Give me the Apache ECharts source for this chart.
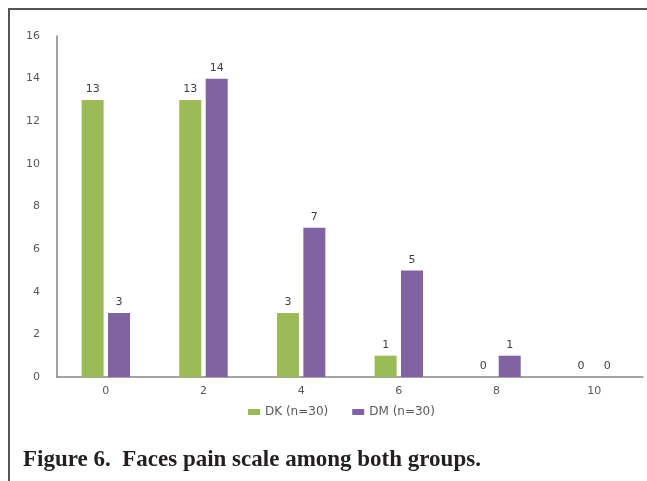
<!DOCTYPE html>
<html>
<head>
<meta charset="utf-8">
<script src="https://cdn.jsdelivr.net/npm/echarts@6/dist/echarts.min.js"></script>
<style>
  html, body { margin: 0; padding: 0; background: #fff; }
  #chart { width: 647px; height: 481px; }
</style>
</head>
<body>
<div id="chart"></div>
<script>
// Pain scores (Faces scale) on the x axis
const categories = ['0', '2', '4', '6', '8', '10'];
// Patient counts per score for each group
const dkValues = [13, 13, 3, 1, 0, 0];
const dmValues = [3, 14, 7, 5, 1, 0];
const seriesNames = ['DK (n=30)', 'DM (n=30)'];
const captionText = 'Figure 6.  Faces pain scale among both groups.';

const chart = echarts.init(document.getElementById('chart'), null, { renderer: 'canvas' });

const labelStyle = {
  show: true,
  position: 'top',
  distance: 5,
  color: '#404040',
  fontSize: 11,
  fontFamily: 'DejaVu Sans'
};

chart.setOption({
  animation: false,
  backgroundColor: '#ffffff',
  graphic: [
    {
      type: 'polyline',
      shape: { points: [[9, 481], [9, 9], [647, 9]] },
      style: { stroke: '#555555', lineWidth: 2, fill: null }
    }
  ],
  title: {
    text: captionText,
    left: 18,
    top: 444,
    textStyle: {
      fontFamily: 'Liberation Serif',
      fontWeight: 'bold',
      fontSize: 23,
      color: '#231f20'
    }
  },
  legend: {
    data: seriesNames,
    top: 401,
    left: 243,
    itemWidth: 12,
    itemHeight: 6,
    itemGap: 24,
    icon: 'rect',
    textStyle: { color: '#595959', fontSize: 12, fontFamily: 'DejaVu Sans' }
  },
  grid: { left: 57, right: 4, top: 36, bottom: 104 },
  xAxis: {
    type: 'category',
    data: categories,
    axisLine: { lineStyle: { color: '#868686', width: 1.5 } },
    axisTick: { show: false },
    axisLabel: { color: '#595959', fontSize: 11, fontFamily: 'DejaVu Sans', margin: 9 }
  },
  yAxis: {
    type: 'value',
    min: 0,
    max: 16,
    interval: 2,
    axisLine: { show: true, lineStyle: { color: '#868686', width: 1.5 } },
    axisTick: { show: false },
    splitLine: { show: false },
    axisLabel: { color: '#595959', fontSize: 11, fontFamily: 'DejaVu Sans', margin: 17 }
  },
  series: [
    {
      name: seriesNames[0],
      type: 'bar',
      data: dkValues,
      barWidth: 22,
      barGap: '20%',
      itemStyle: { color: '#9bbb59' },
      label: labelStyle
    },
    {
      name: seriesNames[1],
      type: 'bar',
      data: dmValues,
      barWidth: 22,
      barGap: '20%',
      itemStyle: { color: '#8064a2' },
      label: labelStyle
    }
  ]
});
</script>
</body>
</html>
